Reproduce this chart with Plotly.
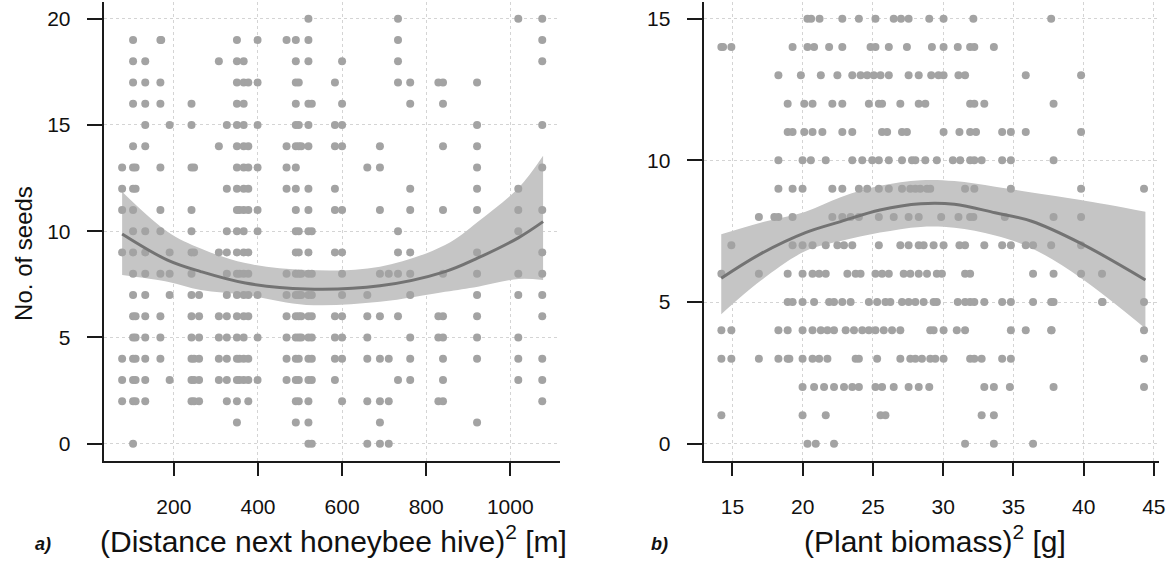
import plotly.graph_objects as go

# ---------------- Panel a: distance to next honeybee hive ----------------
# x position of each column of points and the seed counts found in that column
dist_cols = [77, 103, 109, 132, 168, 170, 190, 242, 248, 260, 307, 326, 350, 356,
             366, 377, 399, 468, 490, 497, 503, 520, 528, 583, 600, 660, 690, 711,
             733, 762, 829, 840, 921, 1019, 1076]
dist_seeds = [
    [13, 12, 11, 9, 4, 3, 2],
    [19, 18, 17, 16, 14, 13, 12, 11, 10, 9, 8, 7, 6, 5, 4, 3, 2, 0],
    [13, 12, 6, 5, 4, 3, 2],
    [18, 17, 16, 15, 14, 10, 9, 8, 7, 6, 5, 4, 3, 2],
    [19, 17, 16, 13, 11, 10, 8, 6, 5, 4],
    [19],
    [15, 9, 8, 7, 3],
    [16, 15, 13, 11, 10, 9, 8, 7, 6, 5, 4, 3, 2],
    [13, 9, 4, 3, 2],
    [7, 6, 5, 4, 3, 2],
    [18, 14, 9, 6, 5, 4, 3],
    [15, 12, 10, 9, 8, 7, 6, 5, 4, 3, 2],
    [19, 18, 17, 16, 15, 14, 13, 12, 11, 10, 9, 8, 7, 6, 5, 4, 3, 2, 1],
    [11, 8, 4, 3],
    [18, 17, 16, 15, 14, 13, 12, 11, 10, 9, 8, 7, 6, 5, 4, 3],
    [17, 14, 13, 12, 11, 9, 8, 7, 6, 4, 3, 2],
    [19, 17, 15, 13, 11, 10, 7, 5, 3],
    [19, 14, 13, 12, 8, 7, 6, 5, 4, 3],
    [19, 18, 17, 16, 15, 14, 13, 12, 11, 10, 9, 8, 7, 6, 5, 4, 3, 2, 1],
    [17, 15, 14, 10, 9, 8, 7, 6, 5, 4, 3, 2],
    [14, 8, 7, 6, 5],
    [20, 19, 18, 16, 15, 14, 12, 11, 10, 9, 8, 7, 6, 5, 4, 3, 2, 1, 0],
    [16, 10, 8, 7, 6, 5, 4, 3, 0],
    [17, 15, 14, 12, 11, 9, 6, 5, 4, 3],
    [18, 16, 15, 14, 11, 9, 8, 7, 6, 5, 4, 2],
    [13, 7, 6, 5, 4, 2, 0],
    [14, 13, 11, 8, 6, 4, 2, 1, 0],
    [8, 4, 2, 0],
    [20, 19, 18, 17, 10, 9, 8, 6, 3],
    [17, 16, 12, 11, 9, 8, 7, 5, 4, 3],
    [17, 6, 5, 2],
    [17, 16, 14, 11, 8, 6, 5, 4, 3, 2],
    [17, 15, 14, 13, 12, 11, 9, 8, 7, 6, 5, 4, 1],
    [20, 12, 11, 10, 8, 7, 5, 4, 3],
    [20, 19, 18, 15, 13, 11, 9, 8, 7, 6, 4, 3, 2],
]

# fitted curve and confidence band
dist_fit_x = [77, 185, 264, 370, 515, 690, 845, 923, 1020, 1078]
dist_fit_y = [9.87, 8.64, 8.10, 7.56, 7.28, 7.43, 8.10, 8.74, 9.70, 10.45]
dist_ci_hi = [11.86, 9.98, 9.19, 8.50, 8.17, 8.33, 9.35, 10.45, 12.05, 13.55]
dist_ci_lo = [7.94, 7.62, 7.23, 7.00, 6.53, 6.68, 7.15, 7.39, 7.75, 7.70]

# ---------------- Panel b: plant biomass ----------------
# seed-count level and the biomass values of the points drawn at that level
bio_levels = [15, 14, 13, 12, 11, 10, 9, 8, 7, 6, 5, 4, 3, 2, 1, 0]
bio_values = [
    [20.34, 20.6, 21.2, 22.82, 24.0, 25.18, 26.48, 27.0, 27.54, 29.01, 30.03, 32.15, 37.69],
    [14.21, 14.33, 14.92, 19.28, 20.34, 20.81, 21.88, 22.82, 24.83, 25.18, 26.13, 27.42,
     29.2, 30.03, 31.04, 31.92, 32.22, 33.61],
    [18.27, 19.87, 21.29, 22.47, 23.53, 24.12, 24.59, 25.06, 25.54, 26.13, 27.54, 28.26,
     29.15, 29.67, 30.03, 31.09, 31.56, 35.88, 39.82],
    [18.93, 20.11, 20.7, 22.11, 22.82, 24.71, 25.42, 25.65, 26.95, 28.26, 28.73, 31.92,
     32.22, 32.93, 37.86],
    [18.93, 19.28, 20.11, 20.7, 21.4, 22.82, 23.53, 25.65, 26.01, 27.07, 27.42, 30.03,
     31.16, 31.92, 32.34, 34.2, 34.82, 35.88, 39.82],
    [18.27, 19.99, 20.58, 21.64, 23.53, 24.24, 24.95, 25.42, 26.13, 27.07, 27.78, 28.02,
     28.73, 29.55, 30.69, 31.21, 31.92, 32.22, 32.74, 34.2, 34.82, 37.86],
    [18.27, 19.28, 19.99, 22.11, 22.82, 24.0, 24.59, 25.42, 26.13, 27.07, 27.66, 28.02,
     28.37, 28.85, 29.08, 31.56, 32.22, 34.82, 39.82, 44.3],
    [16.88, 17.98, 18.27, 19.28, 22.11, 22.82, 23.41, 24.0, 25.42, 26.48, 27.54, 28.26,
     29.86, 31.09, 31.92, 32.15, 34.39, 37.86, 39.82],
    [14.92, 19.28, 19.99, 20.7, 21.64, 22.47, 22.94, 23.53, 25.42, 26.95, 27.54, 28.26,
     28.61, 29.32, 30.03, 31.16, 31.56, 32.93, 34.2, 34.82, 35.88, 36.4, 37.69, 39.82],
    [14.21, 16.88, 18.93, 19.99, 20.7, 21.17, 21.64, 23.18, 23.77, 24.12, 25.18, 25.65,
     26.13, 27.19, 27.66, 28.26, 28.85, 29.55, 29.91, 31.56, 31.92, 36.4, 37.86, 39.82,
     41.31],
    [18.93, 19.28, 19.99, 20.81, 21.88, 22.23, 22.82, 23.41, 24.71, 25.3, 25.89, 26.24,
     27.07, 27.54, 28.02, 28.61, 29.32, 29.55, 31.04, 31.56, 31.92, 32.22, 32.93, 34.2,
     34.82, 36.4, 37.69, 37.86, 41.31, 41.35, 44.3],
    [14.21, 14.92, 18.27, 18.93, 19.99, 20.7, 21.29, 21.76, 22.23, 23.06, 23.65, 24.24,
     24.71, 25.18, 25.77, 26.36, 26.95, 29.08, 29.32, 30.03, 30.97, 31.56, 34.82, 35.88,
     37.69, 37.72, 44.3],
    [14.21, 14.92, 16.88, 18.27, 18.93, 19.05, 19.99, 20.7, 21.17, 21.76, 23.77, 24.0,
     25.3, 26.95, 27.66, 28.02, 28.49, 29.08, 29.44, 30.03, 31.92, 32.22, 32.74, 34.2,
     34.82, 44.3],
    [19.99, 20.81, 21.52, 22.23, 22.94, 23.53, 24.0, 25.18, 25.65, 26.48, 27.54, 28.26,
     29.01, 32.93, 33.61, 34.75, 37.86, 44.3],
    [14.21, 19.99, 21.64, 25.54, 25.89, 32.74, 33.61],
    [20.34, 20.93, 22.23, 31.56, 33.61, 36.4],
]

bio_fit_x = [14.2, 17.0, 20.2, 22.7, 25.5, 28.4, 30.8, 33.7, 36.3, 39.8, 44.4]
bio_fit_y = [5.84, 6.70, 7.45, 7.84, 8.25, 8.47, 8.45, 8.15, 7.85, 7.07, 5.78]
bio_ci_hi = [7.39, 7.80, 8.19, 8.70, 9.10, 9.30, 9.27, 9.07, 8.87, 8.60, 8.19]
bio_ci_lo = [4.57, 5.75, 6.80, 7.15, 7.45, 7.65, 7.62, 7.35, 6.90, 5.85, 4.07]

dist_ticks = [200, 400, 600, 800, 1000]
bio_ticks = [15, 20, 25, 30, 35, 40, 45]
seed_ticks_a = [0, 5, 10, 15, 20]
seed_ticks_b = [0, 5, 10, 15]

# ---------------- build figure ----------------
W, H = 1174, 568
FONT = "Liberation Sans, Arial, sans-serif"
PT = "#a3a3a3"
BAND = "rgb(197,197,197)"
LINE = "#737373"

a_x = [c for c, ys in zip(dist_cols, dist_seeds) for _ in ys]
a_y = [y for ys in dist_seeds for y in ys]
b_x = [v for lv, vs in zip(bio_levels, bio_values) for v in vs]
b_y = [lv for lv, vs in zip(bio_levels, bio_values) for _ in vs]

fig = go.Figure()


def add_panel(xa, ya, px, py, fx, fy, hi, lo):
    fig.add_trace(go.Scatter(x=fx, y=lo, mode="lines", line=dict(width=0, shape="spline"),
                             xaxis=xa, yaxis=ya, hoverinfo="skip", showlegend=False))
    fig.add_trace(go.Scatter(x=fx, y=hi, mode="lines", line=dict(width=0, shape="spline"),
                             fill="tonexty", fillcolor=BAND,
                             xaxis=xa, yaxis=ya, hoverinfo="skip", showlegend=False))
    fig.add_trace(go.Scatter(x=px, y=py, mode="markers",
                             marker=dict(size=8, color=PT, line=dict(width=0)),
                             xaxis=xa, yaxis=ya, showlegend=False))
    fig.add_trace(go.Scatter(x=fx, y=fy, mode="lines",
                             line=dict(color=LINE, width=3, shape="spline"),
                             xaxis=xa, yaxis=ya, showlegend=False))


add_panel("x", "y", a_x, a_y, dist_fit_x, dist_fit_y, dist_ci_hi, dist_ci_lo)
add_panel("x2", "y2", b_x, b_y, bio_fit_x, bio_fit_y, bio_ci_hi, bio_ci_lo)

ax_common = dict(showline=True, linecolor="#1a1a1a", linewidth=1.5,
                 ticks="outside", tickwidth=1.5, tickcolor="#1a1a1a",
                 showgrid=True, gridcolor="#d4d4d4", griddash="dot", gridwidth=1,
                 zeroline=False, mirror=False,
                 tickfont=dict(family=FONT, size=21, color="#111111"))

ydom = [(H - 460.7) / H, (H - 1.7) / H]

fig.update_layout(
    width=W, height=H,
    margin=dict(l=0, r=0, t=0, b=0),
    paper_bgcolor="white", plot_bgcolor="white",
    showlegend=False,
    xaxis=dict(domain=[105 / W, 563 / W], range=[35, 1118.5], anchor="y",
               tickvals=dist_ticks, ticklen=14, ticklabelstandoff=12, **ax_common),
    yaxis=dict(domain=ydom, range=[-0.8, 20.8], anchor="x",
               tickvals=seed_ticks_a, ticklen=16, ticklabelstandoff=12, **ax_common),
    xaxis2=dict(domain=[708 / W, 1165 / W], range=[13.0, 45.37], anchor="y2",
                tickvals=bio_ticks, ticklen=14, ticklabelstandoff=12, **ax_common),
    yaxis2=dict(domain=ydom, range=[-0.6, 15.6], anchor="x2",
                tickvals=seed_ticks_b, ticklen=16, ticklabelstandoff=12, **ax_common),
)

ytitle_font = dict(family=FONT, size=24, color="#111111")
xtitle_font = dict(family=FONT, size=30, color="#111111")
fig.add_annotation(text="No. of seeds", textangle=-90, x=23 / W, y=(H - 253) / H,
                   xref="paper", yref="paper", showarrow=False, font=ytitle_font,
                   xanchor="center", yanchor="middle")
fig.add_annotation(text="(Distance next honeybee hive)<sup>2</sup> [m]",
                   x=335 / W, y=(H - 539) / H, xref="paper", yref="paper",
                   showarrow=False, font=xtitle_font, xanchor="center", yanchor="middle")
fig.add_annotation(text="(Plant biomass)<sup>2</sup> [g]",
                   x=940 / W, y=(H - 539) / H, xref="paper", yref="paper",
                   showarrow=False, font=xtitle_font, xanchor="center", yanchor="middle")
fig.add_annotation(text="<b><i>a)</i></b>", x=43 / W, y=(H - 544) / H,
                   xref="paper", yref="paper", showarrow=False,
                   font=dict(family=FONT, size=18, color="#111111"),
                   xanchor="center", yanchor="middle")
fig.add_annotation(text="<b><i>b)</i></b>", x=663 / W, y=(H - 544) / H,
                   xref="paper", yref="paper", showarrow=False,
                   font=dict(family=FONT, size=18, color="#111111"),
                   xanchor="center", yanchor="middle")

fig.write_html("out.html")
